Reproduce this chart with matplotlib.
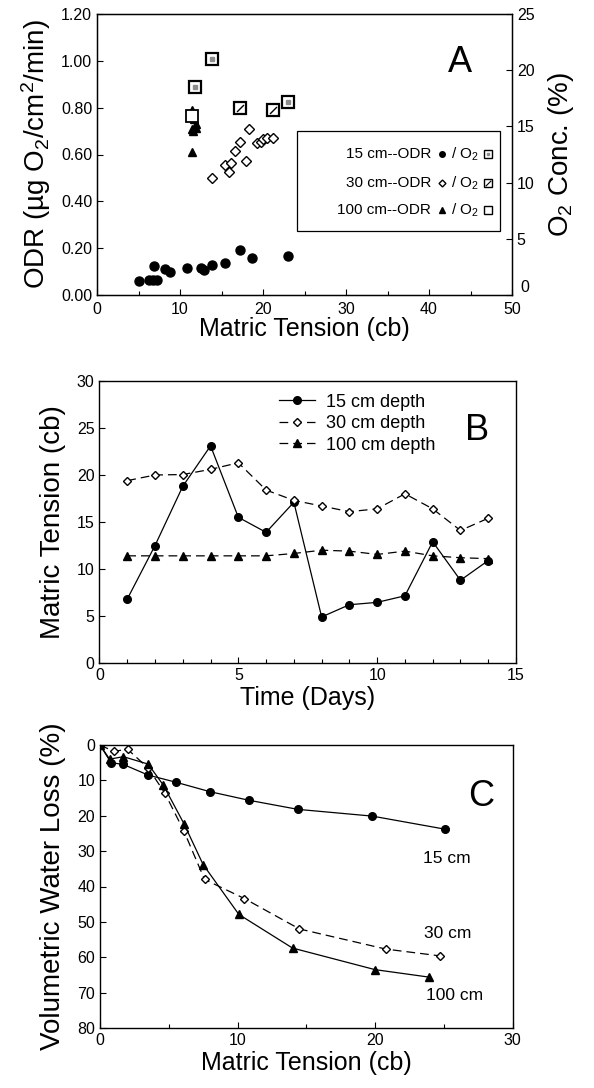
import matplotlib
matplotlib.use("Agg")
import matplotlib.pyplot as plt
from matplotlib.patches import Rectangle

plt.rcParams['font.family'] = ['Liberation Sans', 'DejaVu Sans']
plt.rcParams['mathtext.fontset'] = 'custom'
plt.rcParams['mathtext.rm'] = 'Liberation Sans'
plt.rcParams['mathtext.default'] = 'regular'

# ---- panel A : ODR and O2 vs matric tension
odr15_x = [5.0, 6.3, 6.7, 7.2, 6.9, 8.2, 8.8, 10.8, 12.5, 12.9, 13.8, 15.4, 17.2, 18.7, 23.0]
odr15_y = [0.06, 0.065, 0.065, 0.065, 0.125, 0.11, 0.10, 0.117, 0.117, 0.105, 0.127, 0.135, 0.192, 0.157, 0.165]
odr30_x = [13.9, 15.4, 15.9, 16.2, 16.6, 17.2, 17.9, 18.3, 19.3, 19.8, 20.0, 20.5, 21.2]
odr30_y = [0.50, 0.555, 0.527, 0.565, 0.615, 0.652, 0.573, 0.707, 0.648, 0.652, 0.665, 0.669, 0.669]
odr100_x = [11.5, 11.6, 11.7, 11.9, 11.4, 11.6, 11.9, 11.5]
odr100_y = [0.79, 0.77, 0.75, 0.73, 0.71, 0.70, 0.715, 0.61]
o2_15_x = [11.8, 13.9, 23.0]
o2_15_y = [18.5, 21.0, 17.2]
o2_30_x = [17.2, 21.2]
o2_30_y = [16.6, 16.5]
o2_100_x = [11.5]
o2_100_y = [15.9]

# ---- panel B : matric tension over time
days = [1, 2, 3, 4, 5, 6, 7, 8, 9, 10, 11, 12, 13, 14]
mt15 = [6.8, 12.5, 18.8, 23.1, 15.5, 13.9, 17.1, 4.9, 6.2, 6.45, 7.15, 12.9, 8.8, 10.9]
mt30 = [19.4, 20.0, 20.05, 20.6, 21.3, 18.4, 17.3, 16.7, 16.1, 16.4, 18.0, 16.4, 14.1, 15.4]
mt100 = [11.4, 11.4, 11.4, 11.4, 11.4, 11.4, 11.65, 12.0, 11.9, 11.55, 11.9, 11.4, 11.2, 11.1]

# ---- panel C : volumetric water loss vs matric tension
c15_x = [0, 0.8, 1.7, 3.5, 5.5, 8.0, 10.8, 14.4, 19.8, 25.1]
c15_y = [0, 5.0, 5.5, 8.5, 10.5, 13.2, 15.6, 18.2, 20.1, 23.8]
c30_x = [0, 1.0, 2.0, 3.5, 4.7, 6.1, 7.6, 10.5, 14.5, 20.8, 24.7]
c30_y = [0, 1.8, 1.2, 6.5, 13.5, 24.3, 38.0, 43.4, 52.0, 57.7, 59.6]
c100_x = [0, 0.7, 1.7, 3.5, 4.6, 6.1, 7.5, 10.1, 14.0, 20.0, 23.9]
c100_y = [0, 4.0, 3.3, 5.4, 11.3, 22.2, 33.8, 47.9, 57.4, 63.5, 65.6]

slash = [(-1, -1), (1, 1)]

fig = plt.figure(figsize=(5.94, 10.88), dpi=100)
W, H = 594.0, 1088.0
def box(l, t, r, b):
    return [l / W, 1 - b / H, (r - l) / W, (b - t) / H]

axA = fig.add_axes(box(97, 14, 512, 295))
axB = fig.add_axes(box(99.5, 381, 516, 663))
axC = fig.add_axes(box(100, 745, 512.5, 1028))

tick_kw = dict(direction='in', labelsize=11.5, length=4, width=0.8)
for ax in (axA, axB, axC):
    ax.tick_params(which='both', **tick_kw)
    ax.tick_params(which='minor', length=3)
    for s in ax.spines.values():
        s.set_linewidth(1.0)

# panel A
axA.plot(odr15_x, odr15_y, 'o', color='black', ms=6.5, ls='none')
axA.plot(odr30_x, odr30_y, 'D', mfc='white', mec='black', mew=1.0, ms=5, ls='none')
axA.plot(odr100_x, odr100_y, '^', color='black', ms=5.5, ls='none')
axA.set_xlim(0, 50)
axA.set_ylim(0, 1.2)
axA.set_xticks([0, 10, 20, 30, 40, 50])
axA.set_xticks([5, 15, 25, 35, 45], minor=True)
axA.set_yticks([0, 0.2, 0.4, 0.6, 0.8, 1.0, 1.2])
axA.set_yticklabels(['%.2f' % v for v in [0, 0.2, 0.4, 0.6, 0.8, 1.0, 1.2]])
axA.tick_params(axis='x', pad=5)
axA.set_xlabel('Matric Tension (cb)', fontsize=18, labelpad=0)
axA.set_ylabel('ODR (µg O$_2$/cm$^2$/min)', fontsize=20, labelpad=6)

axA2 = axA.twinx()
axA2.tick_params(which='both', **tick_kw)
axA2.plot(o2_15_x, o2_15_y, 's', mfc='white', mec='black', mew=1.6, ms=8, ls='none')
axA2.plot(o2_15_x, o2_15_y, 's', color='0.55', ms=3, ls='none')
axA2.plot(o2_30_x, o2_30_y, 's', mfc='white', mec='black', mew=1.6, ms=8, ls='none')
axA2.plot(o2_30_x, o2_30_y, marker=slash, color='black', mew=1.0, ms=5, ls='none')
axA2.plot(o2_100_x, o2_100_y, 's', mfc='white', mec='black', mew=1.3, ms=8, ls='none')
axA2.set_ylim(0, 25)
axA2.set_yticks([0, 5, 10, 15, 20, 25])
axA2.set_yticklabels(['', '5', '10', '15', '20', '25'])
axA2.text(1.02, 0.0, '0', transform=axA2.transAxes, ha='left', va='bottom', fontsize=11.5)
axA2.set_ylabel('O$_2$ Conc. (%)', fontsize=20, labelpad=8)

# legend of panel A drawn by hand
axA.add_patch(Rectangle((0.482, 0.228), 0.489, 0.356, transform=axA.transAxes,
                        fill=False, lw=0.9, ec='black', zorder=5))
rows = [('15 cm--ODR', 0.502), ('30 cm--ODR', 0.399), ('100 cm--ODR', 0.302)]
for lab, yy in rows:
    axA.text(0.805, yy, lab, transform=axA.transAxes, ha='right', va='center', fontsize=11)
    axA.text(0.852, yy, '/ O$_2$', transform=axA.transAxes, ha='left', va='center', fontsize=11)
mk_x1, mk_x2 = 0.832, 0.942
axA.plot([mk_x1], [0.502], 'o', color='black', ms=4, transform=axA.transAxes, clip_on=False)
axA.plot([mk_x1], [0.399], 'D', mfc='white', mec='black', ms=3.5, transform=axA.transAxes, clip_on=False)
axA.plot([mk_x1], [0.302], '^', color='black', ms=4, transform=axA.transAxes, clip_on=False)
axA.plot([mk_x2], [0.502], 's', mfc='white', mec='black', mew=1.0, ms=6, transform=axA.transAxes, clip_on=False)
axA.plot([mk_x2], [0.502], 's', color='0.55', ms=2, transform=axA.transAxes, clip_on=False)
axA.plot([mk_x2], [0.399], 's', mfc='white', mec='black', mew=1.0, ms=6, transform=axA.transAxes, clip_on=False)
axA.plot([mk_x2], [0.399], marker=slash, color='black', mew=0.8, ms=4, transform=axA.transAxes, clip_on=False)
axA.plot([mk_x2], [0.302], 's', mfc='white', mec='black', mew=1.0, ms=6, transform=axA.transAxes, clip_on=False)
axA.text(0.875, 0.826, 'A', transform=axA.transAxes, ha='center', va='center', fontsize=26)

# panel B
axB.plot(days, mt15, '-o', color='black', lw=0.9, ms=5.5, label='15 cm depth')
axB.plot(days, mt30, '--D', color='black', mfc='white', lw=0.9, ms=4.2, dashes=(7, 4), label='30 cm depth')
axB.plot(days, mt100, '--^', color='black', lw=0.9, ms=5.5, dashes=(7, 4), label='100 cm depth')
axB.set_xlim(0, 15)
axB.set_ylim(0, 30)
axB.set_xticks([0, 5, 10, 15])
axB.set_xticks(range(1, 15), minor=True)
axB.set_yticks([0, 5, 10, 15, 20, 25, 30])
axB.set_xlabel('Time (Days)', fontsize=18, labelpad=2)
axB.set_ylabel('Matric Tension (cb)', fontsize=20, labelpad=8)
axB.legend(loc='upper left', bbox_to_anchor=(0.40, 1.0), frameon=False, fontsize=13,
           handlelength=2.0, handletextpad=0.6, labelspacing=0.25, borderaxespad=0.3)
axB.text(0.906, 0.825, 'B', transform=axB.transAxes, ha='center', va='center', fontsize=26)

# panel C
axC.plot(c15_x, c15_y, '-o', color='black', lw=0.9, ms=5.5)
axC.plot(c30_x, c30_y, '--D', color='black', mfc='white', lw=0.9, ms=4.2, dashes=(7, 4))
axC.plot(c100_x, c100_y, '-^', color='black', lw=0.9, ms=5.5)
axC.set_xlim(0, 30)
axC.set_ylim(80, 0)
axC.set_xticks([0, 10, 20, 30])
axC.set_xticks([5, 15, 25], minor=True)
axC.set_yticks(range(0, 90, 10))
axC.set_xlabel('Matric Tension (cb)', fontsize=18, labelpad=2)
axC.set_ylabel('Volumetric Water Loss (%)', fontsize=20, labelpad=8)
axC.text(25.2, 32, '15 cm', ha='center', va='center', fontsize=12.5)
axC.text(25.3, 53.3, '30 cm', ha='center', va='center', fontsize=12.5)
axC.text(25.8, 70.8, '100 cm', ha='center', va='center', fontsize=12.5)
axC.text(0.925, 0.817, 'C', transform=axC.transAxes, ha='center', va='center', fontsize=26)

fig.savefig('out.png', dpi=100)
